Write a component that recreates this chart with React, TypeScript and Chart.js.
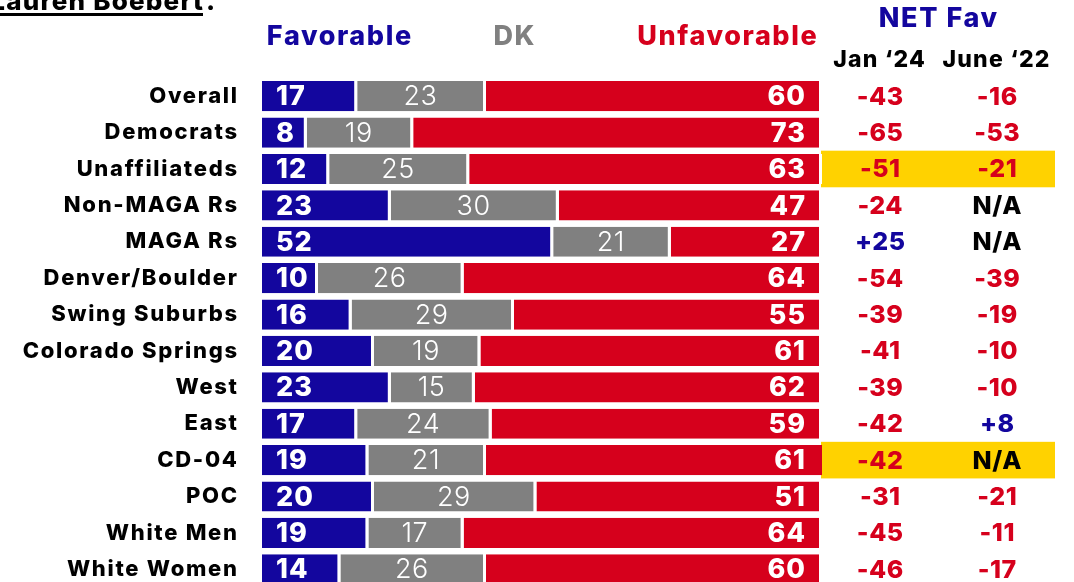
import React, { useEffect, useRef } from "react";
import { Chart, registerables } from "chart.js";

Chart.register(...registerables);

const categories = [
  "Overall", "Democrats", "Unaffiliateds", "Non-MAGA Rs", "MAGA Rs", "Denver/Boulder",
  "Swing Suburbs", "Colorado Springs", "West", "East", "CD-04", "POC", "White Men", "White Women",
];
const favorable = [17, 8, 12, 23, 52, 10, 16, 20, 23, 17, 19, 20, 19, 14];
const dk = [23, 19, 25, 30, 21, 26, 29, 19, 15, 24, 21, 29, 17, 26];
const unfavorable = [60, 73, 63, 47, 27, 64, 55, 61, 62, 59, 61, 51, 64, 60];
const netJan24 = ["-43", "-65", "-51", "-24", "+25", "-54", "-39", "-41", "-39", "-42", "-42", "-31", "-45", "-46"];
const netJune22 = ["-16", "-53", "-21", "N/A", "N/A", "-39", "-19", "-10", "-10", "+8", "N/A", "-21", "-11", "-17"];
const highlighted = ["Unaffiliateds", "CD-04"];

const BLUE = "#13069e";
const GRAY = "#808080";
const RED = "#d6001c";
const YELLOW = "#ffd200";
const FONT = "Inter, 'Open Sans', sans-serif";

function netColor(v: string) {
  if (v.startsWith("+")) return BLUE;
  if (v.startsWith("-")) return RED;
  return "#000";
}

function txt(ctx: any, s: string, x: number, y: number, font: string, color: string, align: string, spacing: number) {
  ctx.font = font;
  ctx.fillStyle = color;
  ctx.letterSpacing = `${spacing}px`;
  ctx.textAlign = "left";
  const w = ctx.measureText(s).width - spacing;
  let x0 = x;
  if (align === "center") x0 = x - w / 2;
  else if (align === "right") x0 = x - w;
  ctx.fillText(s, x0, y);
}

const overlayPlugin = {
  id: "overlay",
  beforeDraw(chart: any) {
    chart.ctx.letterSpacing = "1.7px";
  },
  beforeDatasetsDraw(chart: any) {
    const ctx = chart.ctx;
    const y = chart.scales.y;
    ctx.save();
    ctx.fillStyle = YELLOW;
    categories.forEach((c, i) => {
      if (highlighted.includes(c)) {
        const cy = y.getPixelForValue(i);
        ctx.fillRect(821, cy - 18.3, 234, 36.6);
      }
    });
    ctx.restore();
  },
  afterDatasetsDraw(chart: any) {
    const ctx = chart.ctx;
    const y = chart.scales.y;
    ctx.save();
    ctx.textBaseline = "middle";
    // title
    txt(ctx, "Lauren Boebert", 203, 2, `800 26px ${FONT}`, "#000", "right", 1.2);
    txt(ctx, ".", 206, 2, `800 26px ${FONT}`, "#000", "left", 0);
    ctx.fillRect(0, 13, 203, 3);
    // headers
    txt(ctx, "Favorable", 339, 37, `800 27px ${FONT}`, BLUE, "center", 1.6);
    txt(ctx, "DK", 514, 37, `800 27px ${FONT}`, GRAY, "center", 1.6);
    txt(ctx, "Unfavorable", 727, 37, `800 27px ${FONT}`, RED, "center", 1.6);
    txt(ctx, "NET Fav", 938, 19, `800 27px ${FONT}`, BLUE, "center", 1.6);
    txt(ctx, "Jan \u201824", 879, 60, `800 23px ${FONT}`, "#000", "center", 1.2);
    txt(ctx, "June \u201822", 996, 60, `800 23px ${FONT}`, "#000", "center", 1.2);

    // bar value labels
    const metas = [0, 1, 2].map((d) => chart.getDatasetMeta(d));
    categories.forEach((_, i) => {
      const f = metas[0].data[i].getProps(["x", "y", "base"], true);
      const g = metas[1].data[i].getProps(["x", "y", "base"], true);
      const u = metas[2].data[i].getProps(["x", "y", "base"], true);
      txt(ctx, String(favorable[i]), f.base + 14, f.y + 1, `800 27px ${FONT}`, "#fff", "left", 1);
      txt(ctx, String(dk[i]), (g.base + g.x - 3) / 2, g.y + 1, `300 27px ${FONT}`, "#fff", "center", 0.5);
      txt(ctx, String(unfavorable[i]), Math.min(u.x, chart.chartArea.right) - 17, u.y + 1, `800 27px ${FONT}`, "#fff", "right", 1);
      // net columns
      const cy = y.getPixelForValue(i) + 1;
      txt(ctx, netJan24[i], 880, cy, `800 25px ${FONT}`, netColor(netJan24[i]), "center", 0.5);
      txt(ctx, netJune22[i], 997, cy, `800 25px ${FONT}`, netColor(netJune22[i]), "center", 0.5);
    });
    ctx.restore();
  },
};

export default function App() {
  const ref = useRef<HTMLCanvasElement>(null);
  useEffect(() => {
    document.body.style.margin = "0";
    const common = {
      borderColor: "#ffffff",
      borderWidth: { left: 0, right: 3, top: 0, bottom: 0 },
      borderSkipped: false as const,
      barPercentage: 0.83,
      categoryPercentage: 1,
    };
    const chart = new Chart(ref.current!, {
      type: "bar",
      data: {
        labels: categories,
        datasets: [
          { label: "Favorable", data: favorable, backgroundColor: BLUE, ...common },
          { label: "DK", data: dk, backgroundColor: GRAY, ...common },
          { label: "Unfavorable", data: unfavorable, backgroundColor: RED, ...common },
        ],
      },
      options: {
        indexAxis: "y",
        animation: false,
        responsive: false,
        maintainAspectRatio: false,
        layout: { padding: { left: 0, right: 1074 - 822, top: 78, bottom: 14 } },
        plugins: { legend: { display: false }, tooltip: { enabled: false } },
        scales: {
          x: { stacked: true, min: 0, max: 100, display: false },
          y: {
            stacked: true,
            grid: { display: false, drawTicks: false },
            border: { display: false },
            ticks: {
              color: "#000",
              font: { family: FONT, size: 22, weight: "800" },
              padding: 23.3,
            },
            afterFit: (s: any) => {
              s.width = 262;
            },
          },
        },
      },
      plugins: [overlayPlugin],
    });
    return () => chart.destroy();
  }, []);
  return (
    <div style={{ width: 1074, height: 582, overflow: "hidden", position: "relative" }}>
      <canvas ref={ref} width={1074} height={624} style={{ display: "block", width: 1074, height: 624 }} />
    </div>
  );
}
